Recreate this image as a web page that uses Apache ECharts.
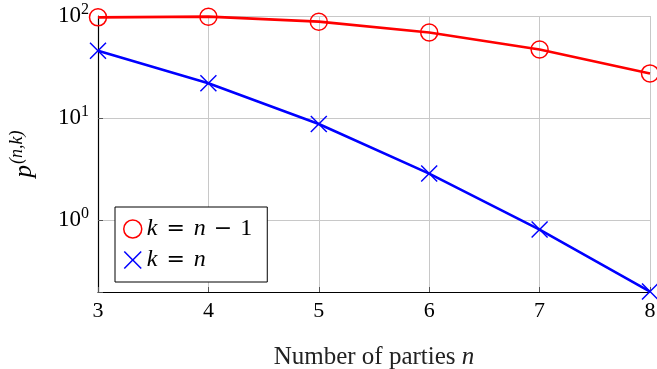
<!DOCTYPE html>
<html>
<head>
<meta charset="utf-8">
<script src="https://cdn.jsdelivr.net/npm/echarts@6/dist/echarts.min.js"></script>
<style>
  html, body { margin: 0; padding: 0; background: #fff; }
  #chart { width: 657px; height: 369px; }
</style>
</head>
<body>
<div id="chart"></div>
<script>
  // 数据
  const parties = [3, 4, 5, 6, 7, 8];
  const pNminus1 = [97, 98.5, 88, 69, 47, 27.4];
  const pN = [45.7, 21.9, 8.76, 2.86, 0.81, 0.2];
  const yMin = 0.198;
  const yMax = 100;

  const font = '"Liberation Serif", "DejaVu Serif", serif';
  const opFont = '"DejaVu Serif", serif';
  const cross = 'path://M0,0.6L0.6,0L5,4.4L9.4,0L10,0.6L5.6,5L10,9.4L9.4,10L5,5.6L0.6,10L0,9.4L4.4,5Z';

  const toPairs = vals => parties.map((n, i) => [n, vals[i]]);

  const mathRich = {
    i: { fontFamily: font, fontStyle: 'italic', fontSize: 24, lineHeight: 24, color: '#000' },
    r: { fontFamily: font, fontSize: 24, lineHeight: 24, color: '#000' },
    eq: { fontFamily: opFont, fontSize: 22, lineHeight: 24, color: '#000', padding: [0, 9, 0, 9] },
    mi: { fontFamily: opFont, fontSize: 22, lineHeight: 24, color: '#000', padding: [0, 8, 0, 8] }
  };

  const chart = echarts.init(document.getElementById('chart'));
  const option = {
    animation: false,
    grid: { left: 98, right: 7, top: 16, bottom: 77, outerBoundsMode: 'none', containLabel: false },
    legend: {
      orient: 'vertical',
      left: 115,
      top: 207,
      backgroundColor: '#fff',
      borderColor: '#000',
      borderWidth: 1,
      borderRadius: 0,
      padding: [10, 15, 10, 8],
      itemGap: 7,
      itemWidth: 18,
      itemHeight: 18,
      textStyle: { rich: mathRich },
      formatter: function (name) {
        if (name === 'k = n - 1') return '{i|k}{eq|=}{i|n}{mi|−}{r|1}';
        return '{i|k}{eq|=}{i|n}';
      },
      data: [
        { name: 'k = n - 1', icon: 'circle',
          itemStyle: { color: 'transparent', borderColor: '#ff0000', borderWidth: 1.5 } },
        { name: 'k = n', icon: cross,
          itemStyle: { color: '#0000ff', borderWidth: 0 } }
      ]
    },
    xAxis: {
      type: 'value',
      min: 3,
      max: 8,
      interval: 1,
      name: '{r|Number of parties }{i|n}',
      nameLocation: 'middle',
      nameGap: 53,
      nameTextStyle: {
        rich: {
          r: { fontFamily: font, fontSize: 25, color: '#222' },
          i: { fontFamily: font, fontSize: 25, fontStyle: 'italic', color: '#222' }
        }
      },
      axisLine: { lineStyle: { color: '#000', width: 1.2 } },
      axisTick: { inside: true, length: 5, lineStyle: { color: '#555' } },
      axisLabel: { fontFamily: font, fontSize: 22, color: '#000', margin: 8 },
      splitLine: { show: true, lineStyle: { color: '#c8c8c8', width: 1 } }
    },
    yAxis: {
      type: 'log',
      logBase: 10,
      min: yMin,
      max: yMax,
      name: '{p|p}{s|(n,k)}',
      nameLocation: 'middle',
      nameRotate: 90,
      nameGap: 58,
      nameTextStyle: {
        rich: {
          p: { fontFamily: font, fontSize: 25, fontStyle: 'italic', color: '#000' },
          s: { fontFamily: font, fontSize: 18, fontStyle: 'italic', color: '#000', padding: [0, 0, 14, 1] }
        }
      },
      axisLine: { show: true, lineStyle: { color: '#000', width: 1.2 } },
      axisTick: { inside: true, length: 5, lineStyle: { color: '#555' } },
      minorTick: { show: false },
      axisLabel: {
        margin: 9,
        formatter: function (v) {
          const l = Math.log10(v);
          const e = Math.round(l);
          if (Math.abs(l - e) > 1e-6) return '';
          return '{b|10}{s|' + e + '}';
        },
        rich: {
          b: { fontFamily: font, fontSize: 23, color: '#000' },
          s: { fontFamily: font, fontSize: 16, color: '#000', padding: [0, 0, 13, 0] }
        }
      },
      splitLine: { show: true, lineStyle: { color: '#c8c8c8', width: 1 } }
    },
    series: [
      {
        name: 'k = n - 1',
        type: 'line',
        data: toPairs(pNminus1),
        symbol: 'circle',
        symbolSize: 17,
        itemStyle: { color: 'transparent', borderColor: '#ff0000', borderWidth: 1.5 },
        lineStyle: { color: '#ff0000', width: 2.6 },
        z: 3
      },
      {
        name: 'k = n',
        type: 'line',
        data: toPairs(pN),
        symbol: cross,
        symbolSize: 17,
        itemStyle: { color: '#0000ff', borderWidth: 0 },
        lineStyle: { color: '#0000ff', width: 2.6 },
        z: 4
      }
    ]
  };
  chart.setOption(option);
</script>
</body>
</html>
